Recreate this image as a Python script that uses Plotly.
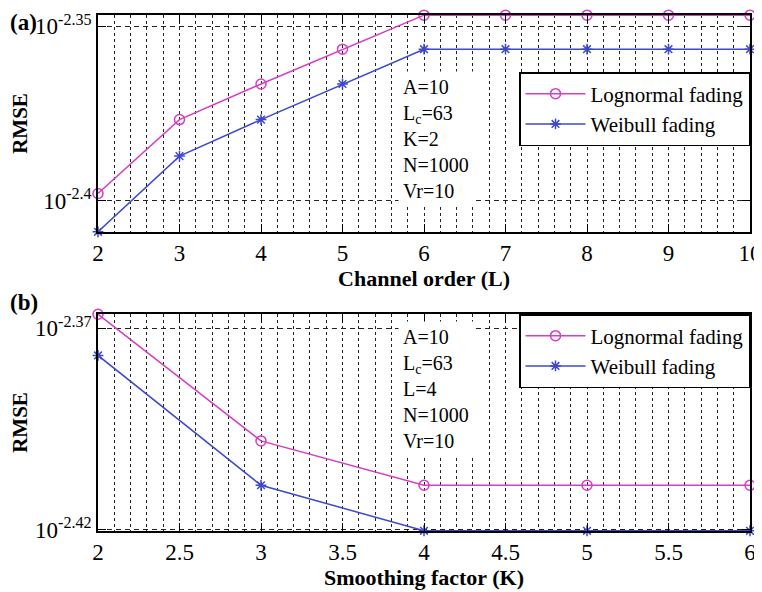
import math
import plotly.graph_objects as go
from plotly.subplots import make_subplots

# ---------------- data ----------------
channel_order = [2, 3, 4, 5, 6, 7, 8, 9, 10]
rmse_lognormal_L = [0.0040, 0.0042, 0.0043, 0.0044, 0.0045, 0.0045, 0.0045, 0.0045, 0.0045]
rmse_weibull_L = [0.0039, 0.0041, 0.0042, 0.0043, 0.0044, 0.0044, 0.0044, 0.0044, 0.0044]
x_ticktext_a = ["2", "3", "4", "5", "6", "7", "8", "9", "10"]

smoothing_factor = [2, 3, 4, 5, 6]
rmse_lognormal_K = [0.0043, 0.0040, 0.0039, 0.0039, 0.0039]
rmse_weibull_K = [0.0042, 0.0039, 0.0038, 0.0038, 0.0038]
x_tickvals_b = [2, 2.5, 3, 3.5, 4, 4.5, 5, 5.5, 6]
x_ticktext_b = ["2", "2.5", "3", "3.5", "4", "4.5", "5", "5.5", "6"]

ytick_vals_a = [10 ** -2.4, 10 ** -2.35]
ytick_text_a = ["10<sup>-2.4</sup>", "10<sup>-2.35</sup>"]
ytick_vals_b = [10 ** -2.42, 10 ** -2.37]
ytick_text_b = ["10<sup>-2.42</sup>", "10<sup>-2.37</sup>"]

yrange_a = [0.0038995, 0.0045005]
yrange_b = [0.0037995, 0.0043005]

params_a = "A=10<br>L<sub>c</sub>=63<br>K=2<br>N=1000<br>Vr=10"
params_b = "A=10<br>L<sub>c</sub>=63<br>L=4<br>N=1000<br>Vr=10"

# ---------------- style ----------------
FONT = "Liberation Serif"
MAGENTA = "rgb(214,62,196)"
BLUE = "rgb(62,72,204)"

fig = make_subplots(rows=2, cols=1, vertical_spacing=0.1590)

def add_pair(x, ln, wb, row, legend):
    fig.add_trace(go.Scatter(
        x=x, y=ln, mode="lines+markers", name="Lognormal fading",
        line=dict(color=MAGENTA, width=1.5),
        marker=dict(symbol="circle-open", size=10, color=MAGENTA, line=dict(width=1.5)),
        cliponaxis=False, legend=legend), row=row, col=1)
    fig.add_trace(go.Scatter(
        x=x, y=wb, mode="lines+markers", name="Weibull fading",
        line=dict(color=BLUE, width=1.5),
        marker=dict(symbol="asterisk-open", size=9, color=BLUE, line=dict(width=1.5, color=BLUE)),
        cliponaxis=False, legend=legend), row=row, col=1)

add_pair(channel_order, rmse_lognormal_L, rmse_weibull_L, 1, "legend")
add_pair(smoothing_factor, rmse_lognormal_K, rmse_weibull_K, 2, "legend2")

axis_common = dict(
    showline=True, linecolor="black", linewidth=1.5, mirror="allticks",
    ticks="inside", tickcolor="black", tickwidth=1.2, ticklen=8,
    tickfont=dict(family=FONT, size=23, color="black"),
    zeroline=False, automargin=False, ticklabeloverflow="allow",
)

fig.update_xaxes(
    **axis_common, showgrid=True, gridcolor="#222", gridwidth=1.4, griddash="dot",
)
fig.update_xaxes(
    range=[2, 10], tickvals=channel_order, ticktext=x_ticktext_a,
    minor=dict(dtick=0.2, tick0=2, showgrid=True, gridcolor="#222", gridwidth=1.4,
               griddash="dot", ticks=""),
    title=dict(text="Channel order (L)", standoff=2,
               font=dict(family=FONT, size=22, color="black", weight="bold")),
    row=1, col=1)
fig.update_xaxes(
    range=[2, 6], tickvals=x_tickvals_b, ticktext=x_ticktext_b,
    minor=dict(dtick=0.1, tick0=2, showgrid=True, gridcolor="#222", gridwidth=1.4,
               griddash="dot", ticks=""),
    title=dict(text="Smoothing factor (K)", standoff=2,
               font=dict(family=FONT, size=22, color="black", weight="bold")),
    row=2, col=1)

fig.update_yaxes(
    **axis_common, type="log", showgrid=True, gridcolor="#222", gridwidth=1.2,
    griddash="5px,4px",
    title=dict(text="RMSE", standoff=14,
               font=dict(family=FONT, size=21, color="black", weight="bold")),
)
fig.update_yaxes(range=[math.log10(yrange_a[0]), math.log10(yrange_a[1])],
                 tickvals=ytick_vals_a, ticktext=ytick_text_a, row=1, col=1)
fig.update_yaxes(range=[math.log10(yrange_b[0]), math.log10(yrange_b[1])],
                 tickvals=ytick_vals_b, ticktext=ytick_text_b, row=2, col=1)

legend_style = dict(
    bgcolor="white", bordercolor="black", borderwidth=1.5,
    font=dict(family=FONT, size=21, color="black"),
    xanchor="right", x=1.0, yanchor="top", itemwidth=60,
    tracegroupgap=0,
)
fig.update_layout(
    legend=dict(**legend_style, y=0.8895),
    legend2=dict(**legend_style, y=0.4205),
)

ann_font = dict(family=FONT, size=20, color="black")
fig.add_annotation(text=params_a, xref="x domain", yref="y domain", x=0.46, y=0.43,
                   xanchor="left", yanchor="middle", align="left", showarrow=False,
                   bgcolor="white", borderpad=4, font=ann_font)
fig.add_annotation(text=params_b, xref="x2 domain", yref="y2 domain", x=0.46, y=0.655,
                   xanchor="left", yanchor="middle", align="left", showarrow=False,
                   bgcolor="white", borderpad=4, font=ann_font)

panel_font = dict(family=FONT, size=23, color="black", weight="bold")
fig.add_annotation(text="(a)", xref="paper", yref="paper", x=-0.138, y=0.986,
                   xanchor="left", yanchor="middle", showarrow=False, font=panel_font)
fig.add_annotation(text="(b)", xref="paper", yref="paper", x=-0.138, y=0.442,
                   xanchor="left", yanchor="middle", showarrow=False, font=panel_font)

# page body has an 8px margin, so the figure is drawn 8px smaller and offset
fig.update_layout(
    width=754, height=584,
    margin=dict(l=90, r=12, t=7, b=61, autoexpand=False),
    paper_bgcolor="white", plot_bgcolor="white",
    font=dict(family=FONT, color="black"),
)

fig.write_html("out.html")
